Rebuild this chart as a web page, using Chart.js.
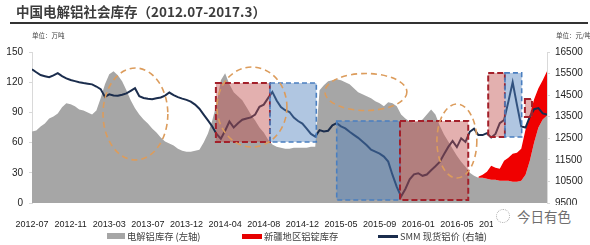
<!DOCTYPE html>
<html>
<head>
<meta charset="utf-8">
<script src="https://cdn.jsdelivr.net/npm/chart.js@4.4.1/dist/chart.umd.min.js"></script>
<style>
  html, body { margin: 0; padding: 0; background: #fff; }
  #wrap { position: relative; width: 590px; height: 245px; overflow: hidden; font-family: "Noto Sans CJK SC", "Liberation Sans", sans-serif; }
  #chart { position: absolute; left: 0; top: 0; }
  .title { position: absolute; left: 16px; top: 1px; font-size: 13.5px; font-weight: bold; color: #3c3c3c; white-space: nowrap; }
  .rule { position: absolute; left: 10px; top: 22px; width: 578px; height: 2px; background: #333; }
  .unit { position: absolute; top: 30px; font-size: 6.5px; color: #444; white-space: nowrap; }
  .legend { position: absolute; top: 229px; font-size: 9.3px; color: #404040; white-space: nowrap; line-height: 14px; }
  .legend i { display: inline-block; vertical-align: middle; margin-right: 2px; margin-top: -2px; }
  .mark { position: absolute; left: 493px; top: 205px; width: 88px; height: 22px; background: #fff; }
  .mark span { position: absolute; left: 24px; top: 0px; font-size: 13.5px; color: #6e6e6e; line-height: 22px; }
  .mark b { position: absolute; left: 3px; top: 4px; width: 12px; height: 12px; border: 1.5px dotted #aaa; border-radius: 50%; }
</style>
</head>
<body>
<div id="wrap">
  <canvas id="chart" width="590" height="245"></canvas>
  <div class="title">中国电解铝社会库存（2012.07-2017.3）</div>
  <div class="rule"></div>
  <div class="unit" style="left:32px">单位：万吨</div>
  <div class="unit" style="left:556px">单位：元/吨</div>
  <div class="legend" style="left:107px"><i style="width:18px;height:6px;background:#a6a6a6"></i>电解铝库存 (左轴)</div>
  <div class="legend" style="left:242px"><i style="width:20px;height:5px;background:#e60000"></i>新疆地区铝锭库存</div>
  <div class="legend" style="left:378px"><i style="width:20px;height:3px;background:#1b2d4d"></i>SMM 现货铝价 (右轴)</div>
  <div class="mark"><b></b><span>今日有色</span></div>
</div>
<script>
'use strict';

// x轴：周序号，每两周取一个点
const weeksPerSample = 2;
const weeksPerLabel = 18;
const tickLabels = ['2012-07', '2012-11', '2013-03', '2013-07', '2013-12', '2014-04', '2014-08',
  '2014-12', '2015-05', '2015-09', '2016-01', '2016-05', '2016-09', '2017-01'];

// 电解铝社会库存（万吨，左轴）
const stock = [
  71, 72, 76, 79, 84, 86, 89, 95, 99, 98,
  96, 93, 92, 90, 88, 92, 104, 118, 128, 131,
  127, 121, 112, 102, 94, 88, 83, 79, 74, 70,
  65, 61, 59, 57, 54, 52, 51, 51, 52, 53,
  60, 69, 82, 98, 122, 129, 118, 110, 106, 102,
  95, 88, 82, 75, 70, 63, 58, 56, 55, 54,
  54, 55, 55, 55, 55, 56, 56, 112, 117, 121,
  122, 123, 122, 120, 118, 114, 110, 108, 106, 104,
  101, 99, 96, 100, 99, 96, 88, 84, 81, 80,
  81, 83, 88, 93, 88, 77, 68, 61, 54, 47,
  41, 36, 30, 27, 25, 25, 24, 23, 23, 22,
  22, 22, 21, 21, 22, 28, 42, 60, 75, 83,
  87
];

// 新疆地区铝锭库存（万吨，叠在社会库存上），从第104个点开始
const xinjiangStart = 104;
const xinjiang = [1, 3, 7, 14, 12, 12, 20, 23, 28, 29, 32, 45, 46, 43, 39, 39, 44];

// SMM现货铝价（元/吨，右轴）
const price = [
  15700, 15560, 15430, 15380, 15330, 15420, 15520, 15380, 15280, 15200,
  15150, 15100, 15060, 15030, 15000, 14900, 14780, 14420, 14540, 14480,
  14470, 14520, 14580, 14700, 14820, 14450, 14370, 14330, 14310, 14360,
  14390, 14480, 14620, 14500, 14410, 14340, 14280, 14200, 14060, 13870,
  13600, 13330, 13050, 12700, 12480, 12850, 13280, 13000, 13200, 13360,
  13420, 13470, 13600, 13960, 14060, 14360, 14650, 14250, 13950, 13800,
  13720, 13460, 13300, 13180, 12950, 12700, 12580, 12880, 12820, 12850,
  13100, 13200, 13050, 12960, 12800, 12660, 12520, 12350, 12180, 11970,
  11880, 11790, 11650, 11420, 10800, 10250, 9800, 10150, 10600, 10830,
  10880, 10760, 10820, 11020, 11200, 11400, 11760, 12100, 12380, 12090,
  12500, 12330, 12800, 12950, 12650, 12650, 12740, 12540, 12700, 13200,
  13350, 14200, 15100, 14050, 13050, 13000, 13500, 13850, 13900, 13650,
  13600
];

// 标注框：[起始周, 结束周, 价格下沿, 价格上沿, 类型]
const priceBoxes = [
  [85.7, 110.9, 12330, 15060, 'up'],
  [110.9, 132.5, 12330, 15060, 'down'],
  [142, 171.5, 9640, 13300, 'down'],
  [171.5, 203.3, 9640, 13300, 'up'],
  [212.6, 220.4, 12560, 15530, 'up'],
  [220.4, 228.2, 12560, 15530, 'down'],
  [229.7, 233, 13490, 14320, 'up']
];
// 虚线椭圆：[中心周, 中心价格, 半径(周), 半径(元)]
const priceRings = [
  [48.2, 13626, 15.1, 2132],
  [102.5, 13950, 16.3, 1854],
  [155.6, 14646, 19.1, 858],
  [198, 12374, 9.3, 1715]
];

const boxStyles = {
  up: { fill: 'rgba(192, 80, 77, 0.45)', line: '#a3202a', width: 2, dash: [6, 3] },
  down: { fill: 'rgba(79, 129, 189, 0.45)', line: '#4a7fc0', width: 1.6, dash: [5, 3] }
};

const overlays = {
  id: 'overlays',
  afterDatasetsDraw(chart) {
    const { ctx, chartArea, scales: { x, y1 } } = chart;
    ctx.save();
    ctx.beginPath();
    ctx.rect(chartArea.left, chartArea.top, chartArea.width, chartArea.height);
    ctx.clip();
    priceBoxes.forEach(([w0, w1, lo, hi, kind]) => {
      const st = boxStyles[kind];
      const l = x.getPixelForValue(w0), r = x.getPixelForValue(w1);
      const t = y1.getPixelForValue(hi), b = y1.getPixelForValue(lo);
      ctx.fillStyle = st.fill;
      ctx.fillRect(l, t, r - l, b - t);
      ctx.setLineDash(st.dash);
      ctx.lineWidth = st.width;
      ctx.strokeStyle = st.line;
      ctx.strokeRect(l, t, r - l, b - t);
    });
    ctx.setLineDash([6, 4]);
    ctx.lineWidth = 1.6;
    ctx.strokeStyle = '#dc9c5c';
    priceRings.forEach(([cw, cp, rw, rp]) => {
      const cx = x.getPixelForValue(cw), cy = y1.getPixelForValue(cp);
      const rx = x.getPixelForValue(cw + rw) - cx;
      const ry = cy - y1.getPixelForValue(cp + rp);
      ctx.beginPath();
      ctx.ellipse(cx, cy, rx, ry, 0, 0, Math.PI * 2);
      ctx.stroke();
    });
    ctx.restore();
  }
};

const stockPoints = stock.map((v, i) => ({ x: i * weeksPerSample, y: v }));
const xinjiangPoints = xinjiang.map((v, k) => {
  const i = xinjiangStart + k;
  return { x: i * weeksPerSample, y: stock[i] + v };
});
const pricePoints = price.map((v, i) => ({ x: i * weeksPerSample, y: v }));

const axisFont = { family: "'Liberation Sans', Arial, sans-serif", size: 10 };

new Chart(document.getElementById('chart'), {
  type: 'line',
  data: {
    datasets: [{
      label: '电解铝库存 (左轴)',
      data: stockPoints,
      yAxisID: 'y',
      order: 3,
      borderWidth: 0,
      backgroundColor: '#a6a6a6',
      fill: 'origin',
      pointRadius: 0
    },
    {
      label: '新疆地区铝锭库存',
      data: xinjiangPoints,
      yAxisID: 'y',
      order: 2,
      borderWidth: 0,
      backgroundColor: '#f00000',
      fill: 0,
      pointRadius: 0
    },
    {
      label: 'SMM 现货铝价 (右轴)',
      data: pricePoints,
      yAxisID: 'y1',
      order: 1,
      borderColor: '#1b2d4d',
      borderWidth: 2,
      fill: false,
      pointRadius: 0,
      tension: 0
    }]
  },
  options: {
    responsive: false,
    animation: false,
    events: [],
    layout: { padding: { top: 52 } },
    plugins: { legend: { display: false }, tooltip: { enabled: false } },
    scales: {
      x: {
        type: 'linear',
        min: 0,
        max: 240,
        afterFit: (s) => { s.height = 42; },
        afterBuildTicks: (s) => { s.ticks = tickLabels.map((_, k) => ({ value: k * weeksPerLabel })); },
        grid: { display: false },
        border: { display: false },
        ticks: {
          autoSkip: false,
          maxRotation: 0,
          padding: 8,
          color: '#222',
          font: { family: "'Liberation Sans', Arial, sans-serif", size: 9 },
          callback: (v) => tickLabels[Math.round(v / weeksPerLabel)]
        }
      },
      y: {
        position: 'left',
        min: 0,
        max: 150,
        afterFit: (s) => { s.width = 32; },
        grid: { drawOnChartArea: false, tickLength: 3, color: '#d9d9d9' },
        border: { color: '#d9d9d9' },
        ticks: { stepSize: 30, padding: 6, color: '#222', font: axisFont }
      },
      y1: {
        position: 'right',
        min: 9500,
        max: 16500,
        afterFit: (s) => { s.width = 43; },
        grid: { drawOnChartArea: false, tickLength: 3, color: '#d9d9d9' },
        border: { color: '#d9d9d9' },
        ticks: { stepSize: 1000, padding: 5, color: '#222', font: axisFont, callback: (v) => String(v) }
      }
    }
  },
  plugins: [overlays]
});
</script>
</body>
</html>
